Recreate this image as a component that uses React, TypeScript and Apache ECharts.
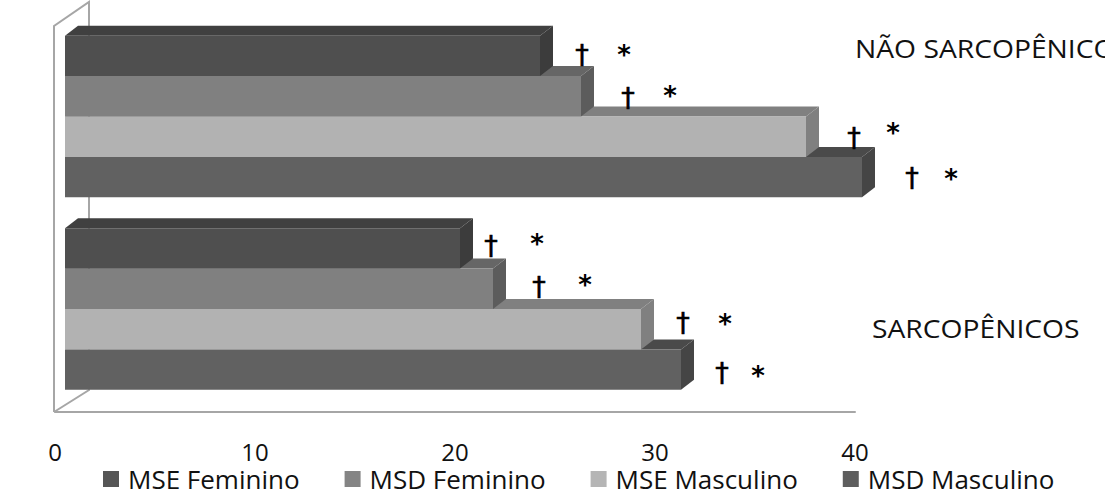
import React, { useEffect, useRef } from "react";
import * as echarts from "echarts";

const groups = ["NÃO SARCOPÊNICOS", "SARCOPÊNICOS"];
const seriesNames = ["MSE Feminino", "MSD Feminino", "MSE Masculino", "MSD Masculino"];
const mseFeminino = [23.75, 19.75];
const msdFeminino = [25.8, 21.4];
const mseMasculino = [37.05, 28.8];
const msdMasculino = [39.85, 30.8];
const tickStep = 10;
const axisMax = 40;

const seriesValues = [mseFeminino, msdFeminino, mseMasculino, msdMasculino];
const faceColors = [
  { front: "#4f4f4f", top: "#404040", side: "#3c3c3c", legend: "#565656" },
  { front: "#808080", top: "#666666", side: "#5c5c5c", legend: "#848484" },
  { front: "#b2b2b2", top: "#808080", side: "#808080", legend: "#b5b5b5" },
  { front: "#616161", top: "#4a4a4a", side: "#454545", legend: "#5e5e5e" },
];

const FONT = "'Open Sans', sans-serif";
const GRAY = "#a6a6a6";
const DEPTH_X = 13;
const DEPTH_Y = 10;

const marks: [number, number, number, number][] = [
  [582, 54, 624, 54],
  [628, 97, 670, 95],
  [854, 137, 893, 132],
  [912, 177, 951, 178],
  [491, 245, 537, 243],
  [539, 286, 585, 284],
  [683, 322, 725, 323],
  [722, 372, 758, 375],
];

function renderBar(seriesIdx: number) {
  return (params: any, api: any) => {
    const cat = api.value(0);
    const val = api.value(1);
    const band = api.size([0, 1])[1];
    const h = band * 0.21;
    const [xEnd, yc] = api.coord([val, cat]);
    const [xStart] = api.coord([0, cat]);
    const x0 = xStart + 10;
    const x1 = xEnd + 10;
    const y0 = yc - 6.75 - 2 * h + seriesIdx * h;
    const y1 = y0 + h;
    const c = faceColors[seriesIdx];
    return {
      type: "group",
      children: [
        {
          type: "polygon",
          shape: { points: [[x0, y0], [x0 + DEPTH_X, y0 - DEPTH_Y], [x1 + DEPTH_X, y0 - DEPTH_Y], [x1, y0]] },
          style: { fill: c.top },
        },
        {
          type: "polygon",
          shape: { points: [[x1, y0], [x1 + DEPTH_X, y0 - DEPTH_Y], [x1 + DEPTH_X, y1 - DEPTH_Y], [x1, y1]] },
          style: { fill: c.side },
        },
        {
          type: "rect",
          shape: { x: x0, y: y0, width: x1 - x0, height: y1 - y0 },
          style: { fill: c.front },
        },
      ],
    };
  };
}

export default function App() {
  const ref = useRef<HTMLDivElement>(null);
  useEffect(() => {
    document.body.style.margin = "0";
    const chart = echarts.init(ref.current!, undefined, { renderer: "svg" });
    const markTexts: any[] = [];
    marks.forEach(([dx, dy, sx, sy]) => {
      markTexts.push({
        type: "text", x: dx, y: dy, z: 20,
        style: { text: "†", font: "27px 'DejaVu Sans'", fill: "#000", stroke: "#000", lineWidth: 0.6, align: "center", verticalAlign: "middle" },
      });
      markTexts.push({
        type: "text", x: sx, y: sy + 1, z: 20,
        style: { text: "*", font: "bold 26px 'DejaVu Sans'", fill: "#000", align: "center", verticalAlign: "middle" },
      });
    });
    chart.setOption({
      animation: false,
      backgroundColor: "#ffffff",
      grid: { left: 55, top: 27, width: 800, height: 385, containLabel: false },
      xAxis: {
        type: "value",
        min: 0,
        max: axisMax,
        interval: tickStep,
        axisLine: { show: true, lineStyle: { color: GRAY, width: 2 } },
        axisTick: { show: false },
        splitLine: { show: false },
        axisLabel: { fontFamily: FONT, fontSize: 24, lineHeight: 22, color: "#111", margin: 28 },
      },
      yAxis: {
        type: "category",
        data: groups,
        inverse: true,
        show: false,
      },
      legend: {
        left: 103,
        top: 466,
        padding: 0,
        itemWidth: 16,
        itemHeight: 16,
        itemGap: 45,
        icon: "rect",
        data: seriesNames,
        textStyle: { fontFamily: FONT, fontSize: 26, lineHeight: 20, color: "#111", padding: [0, 0, 0, 4] },
      },
      graphic: [
        {
          type: "polyline", z: 0,
          shape: { points: [[54, 412], [54, 26], [89, 2], [89, 390], [54, 412]] },
          style: { stroke: GRAY, lineWidth: 2, fill: "none" },
        },
        {
          type: "text", x: 855, y: 48, z: 20, scaleX: 1.13,
          style: { text: groups[0], font: `25px ${FONT}`, fill: "#111", verticalAlign: "middle" },
        },
        {
          type: "text", x: 872, y: 328, z: 20, scaleX: 1.13,
          style: { text: groups[1], font: `25px ${FONT}`, fill: "#111", verticalAlign: "middle" },
        },
        ...markTexts,
      ],
      series: seriesNames.map((name, i) => ({
        name,
        type: "custom",
        z: 10 - i,
        itemStyle: { color: faceColors[i].legend },
        encode: { x: 1, y: 0 },
        data: seriesValues[i].map((v, c) => [c, v]),
        renderItem: renderBar(i),
      })),
    });
    return () => chart.dispose();
  }, []);
  return <div ref={ref} style={{ width: 1105, height: 499 }} />;
}
